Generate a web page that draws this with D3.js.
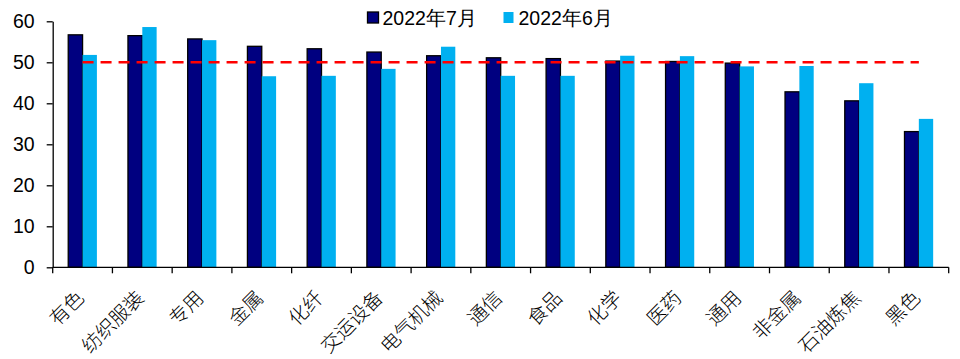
<!DOCTYPE html>
<html>
<head>
<meta charset="utf-8">
<script src="https://cdn.jsdelivr.net/npm/d3@7/dist/d3.min.js"></script>
<style>
  html, body { margin: 0; padding: 0; background: #fff; }
  svg { display: block; }
</style>
</head>
<body>
<svg id="chart" width="960" height="359"></svg>
<script>
// Industry categories and the two monthly series
const categories = ["有色", "纺织服装", "专用", "金属", "化纤", "交运设备", "电气机械",
                    "通信", "食品", "化学", "医药", "通用", "非金属", "石油炼焦", "黑色"];
const july2022 = [56.7, 56.5, 55.7, 53.9, 53.3, 52.5, 51.6, 51.1, 50.9, 50.3, 50.2, 49.8, 42.8, 40.6, 33.1];
const june2022 = [51.8, 58.6, 55.4, 46.6, 46.7, 48.4, 53.8, 46.7, 46.7, 51.6, 51.5, 49.0, 49.1, 44.9, 36.2];
const seriesNames = ["2022年7月", "2022年6月"];
const yTicks = [0, 10, 20, 30, 40, 50, 60];
const refLevel = 50;

const colors = ["#000080", "#00B0F0"];

const svg = d3.select("#chart");
const plotLeft = 52.7, plotRight = 948.7, plotTop = 21.3, plotBottom = 267.3;

const x = d3.scaleBand().domain(categories).range([plotLeft, plotRight]).paddingInner(0).paddingOuter(0);
const y = d3.scaleLinear().domain([0, 60]).range([plotBottom, plotTop]);
const barW = x.bandwidth() * 0.24;

// bars
const g = svg.append("g");
categories.forEach((c, i) => {
  const cx = x(c) + x.bandwidth() / 2;
  g.append("rect")
    .attr("x", cx - barW).attr("y", y(july2022[i]))
    .attr("width", barW).attr("height", y(0) - y(july2022[i]))
    .attr("fill", colors[0]).attr("stroke", "#000").attr("stroke-width", 1.3);
  g.append("rect")
    .attr("x", cx).attr("y", y(june2022[i]))
    .attr("width", barW).attr("height", y(0) - y(june2022[i]))
    .attr("fill", colors[1]);
});

// 50 reference line
const c0 = x(categories[0]) + x.bandwidth() / 2;
const c1 = x(categories[categories.length - 1]) + x.bandwidth() / 2;
svg.append("line")
  .attr("x1", c0).attr("x2", c1)
  .attr("y1", y(refLevel)).attr("y2", y(refLevel))
  .attr("stroke", "#FF0000").attr("stroke-width", 2.5)
  .attr("stroke-dasharray", "11,7");

// y axis
const yAxis = svg.append("g")
  .attr("transform", `translate(${plotLeft},0)`)
  .call(d3.axisLeft(y).tickValues(yTicks).tickSize(6).tickPadding(12).tickSizeOuter(0));
yAxis.select(".domain").attr("stroke", "#000").attr("stroke-width", 1.3);
yAxis.selectAll(".tick line").attr("stroke", "#000").attr("stroke-width", 1.3);
yAxis.selectAll("text")
  .attr("font-family", "Liberation Sans, Arial, sans-serif")
  .attr("font-size", 19.5).attr("fill", "#000");

// x axis: ticks at category boundaries
const xAxis = svg.append("g").attr("transform", `translate(0,${plotBottom})`);
xAxis.append("line").attr("x1", plotLeft).attr("x2", plotRight)
  .attr("stroke", "#000").attr("stroke-width", 1.3);
const bounds = categories.map(c => x(c)).concat([plotRight]);
xAxis.selectAll(".xt").data(bounds).enter().append("line")
  .attr("x1", d => d).attr("x2", d => d).attr("y1", 0).attr("y2", 6)
  .attr("stroke", "#000").attr("stroke-width", 1.3);

// category labels, rotated
svg.append("g").selectAll("text").data(categories).enter().append("text")
  .attr("transform", d => `translate(${x(d) + x.bandwidth() / 2 - 2},${plotBottom + 27}) rotate(-45)`)
  .attr("text-anchor", "end")
  .attr("dy", "0.35em")
  .attr("font-family", "Noto Sans CJK SC, sans-serif")
  .attr("font-weight", 300)
  .attr("font-size", 19.5)
  .attr("fill", "#000")
  .text(d => d);

// legend
const legend = svg.append("g");
const legendItems = [{x: 367.5, label: seriesNames[0]}, {x: 503.5, label: seriesNames[1]}];
legendItems.forEach((it, i) => {
  legend.append("rect")
    .attr("x", it.x).attr("y", 12).attr("width", i === 0 ? 11 : 10).attr("height", 11)
    .attr("fill", colors[i])
    .attr("stroke", i === 0 ? "#000" : "none").attr("stroke-width", 1.3);
  legend.append("text")
    .attr("x", it.x + 15).attr("y", 25)
    .attr("font-family", "Liberation Sans, Arial, sans-serif")
    .attr("font-size", 19.5).attr("fill", "#000")
    .text(it.label);
});
</script>
</body>
</html>
